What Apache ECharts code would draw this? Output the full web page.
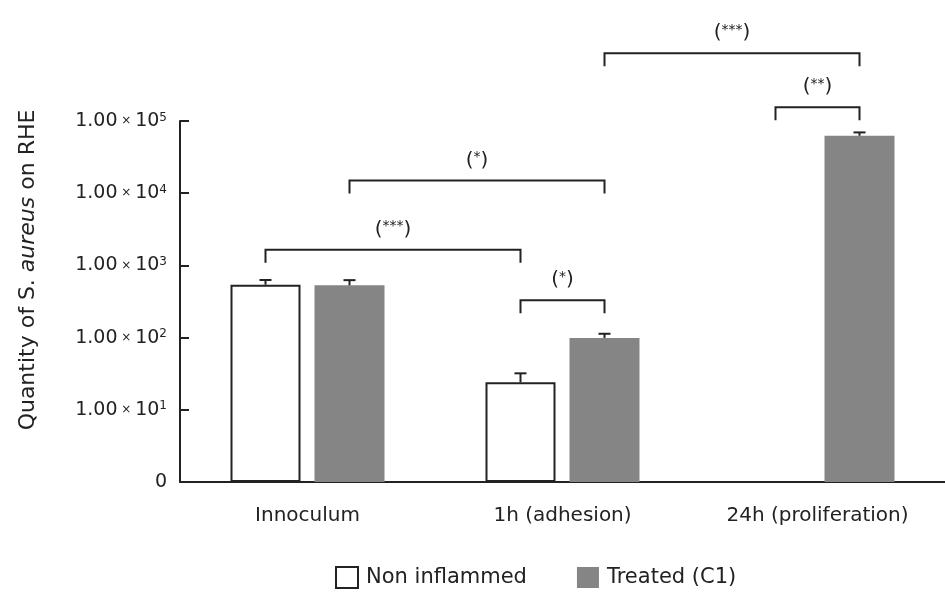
<!DOCTYPE html>
<html>
<head>
<meta charset="utf-8">
<script src="https://cdn.jsdelivr.net/npm/echarts@6/dist/echarts.min.js"></script>
<style>
html,body{margin:0;padding:0;background:#fff;}
#main{width:945px;height:592px;}
</style>
</head>
<body>
<div id="main"></div>
<script>
// ---- data ----
var categories = ['Innoculum', '1h (adhesion)', '24h (proliferation)'];
var nonInflamed = [540, 24, null];
var nonInflamedUpper = [628, 32, null];
var treated = [530, 99, 62500];
var treatedUpper = [625, 113, 69500];
var seriesNames = ['Non inflammed', 'Treated (C1)'];
// significance brackets: [category1, side1, category2, side2, level, stars]
var bracketCat1 = [0, 0, 1, 1, 2];
var bracketSide1 = [0, 1, 0, 1, 0];
var bracketCat2 = [1, 1, 1, 2, 2];
var bracketSide2 = [0, 1, 1, 1, 1];
var bracketLevel = [1650, 15000, 330, 870000, 155000];
var bracketStars = ['***', '*', '*', '***', '**'];
var yTickExponents = [0, 1, 2, 3, 4, 5];

// ---- style ----
var FONT = 'DejaVu Sans';
var INK = '#222';
var GREY = '#858585';
var BAR_W = 70, BAR_GAP = 14;
var sideOffset = function (side) { return (side === 0 ? -1 : 1) * (BAR_W + BAR_GAP) / 2; };

var chart = echarts.init(document.getElementById('main'), null, {renderer: 'canvas'});

var errData = [];
categories.forEach(function (c, i) {
  if (nonInflamed[i] != null) errData.push([i, nonInflamedUpper[i], nonInflamed[i], 0]);
  if (treated[i] != null) errData.push([i, treatedUpper[i], treated[i], 1]);
});

var bracketData = bracketLevel.map(function (lv, i) {
  return [bracketCat1[i], lv, bracketCat2[i], bracketSide1[i], bracketSide2[i]];
});

var option = {
  animation: false,
  backgroundColor: '#fff',
  grid: {left: 180, right: 0, top: 121, bottom: 110, containLabel: false},
  legend: {
    data: seriesNames,
    left: 335, top: 566,
    padding: 0,
    itemWidth: 22, itemHeight: 21, itemGap: 50,
    icon: 'rect',
    textStyle: {fontFamily: FONT, fontSize: 21, color: INK, padding: [0, 0, 0, 3]}
  },
  graphic: [{
    type: 'text',
    x: 28, y: 270,
    rotation: Math.PI / 2,
    style: {
      text: '{a|Quantity of S. }{i|aureus}{a| on RHE}',
      align: 'center', verticalAlign: 'middle',
      rich: {
        a: {fontFamily: FONT, fontSize: 22, fill: INK},
        i: {fontFamily: FONT, fontSize: 22, fontStyle: 'italic', fill: INK}
      }
    }
  }],
  xAxis: {
    type: 'category',
    data: categories,
    axisTick: {show: false},
    axisLine: {show: true, lineStyle: {color: INK, width: 2}},
    axisLabel: {fontFamily: FONT, fontSize: 20, color: INK, margin: 24}
  },
  yAxis: {
    type: 'log',
    logBase: 10,
    min: Math.pow(10, yTickExponents[0]),
    max: Math.pow(10, yTickExponents[yTickExponents.length - 1]),
    splitLine: {show: false},
    axisLine: {show: true, lineStyle: {color: INK, width: 2}},
    axisTick: {show: true, inside: true, length: 9, lineStyle: {color: INK, width: 2}},
    axisLabel: {
      margin: 13,
      formatter: function (v) {
        var e = Math.round(Math.log10(v));
        if (e === 0) return '{n|0}';
        return '{n|1.00}{x| × }{n|10}{s|' + e + '}';
      },
      rich: {
        n: {fontFamily: FONT, fontSize: 19, color: INK},
        x: {fontFamily: FONT, fontSize: 12, color: INK},
        s: {fontFamily: FONT, fontSize: 12, color: INK, verticalAlign: 'top'}
      }
    }
  },
  series: [
    {
      name: seriesNames[0],
      type: 'bar',
      data: nonInflamed,
      barWidth: BAR_W,
      barGap: (BAR_GAP / BAR_W * 100) + '%',
      itemStyle: {color: '#fff', borderColor: INK, borderWidth: 2}
    },
    {
      name: seriesNames[1],
      type: 'bar',
      data: treated,
      barWidth: BAR_W,
      itemStyle: {color: GREY}
    },
    {
      name: 'err',
      type: 'custom',
      data: errData,
      encode: {x: 0, y: 1},
      z: 5,
      renderItem: function (params, api) {
        var cat = api.value(0);
        var top = api.coord([cat, api.value(1)]);
        var base = api.coord([cat, api.value(2)]);
        var x = top[0] + sideOffset(api.value(3));
        return {
          type: 'group',
          children: [
            {type: 'line', shape: {x1: x, y1: base[1], x2: x, y2: top[1]}, style: {stroke: INK, lineWidth: 2}},
            {type: 'line', shape: {x1: x - 6, y1: top[1], x2: x + 6, y2: top[1]}, style: {stroke: INK, lineWidth: 2}}
          ]
        };
      }
    },
    {
      name: 'brackets',
      type: 'custom',
      data: bracketData,
      encode: {x: [0, 2], y: 1},
      clip: false,
      z: 5,
      renderItem: function (params, api) {
        var p1 = api.coord([api.value(0), api.value(1)]);
        var p2 = api.coord([api.value(2), api.value(1)]);
        var x1 = p1[0] + sideOffset(api.value(3));
        var x2 = p2[0] + sideOffset(api.value(4));
        var y = p1[1];
        var drop = 13;
        return {
          type: 'group',
          children: [
            {type: 'polyline', shape: {points: [[x1, y + drop], [x1, y], [x2, y], [x2, y + drop]]},
              style: {stroke: INK, lineWidth: 2, fill: null}},
            {type: 'text', style: {
              text: '{p|(}{s|' + bracketStars[params.dataIndex] + '}{p|)}',
              x: (x1 + x2) / 2, y: y - 20,
              align: 'center', verticalAlign: 'middle',
              rich: {
                p: {fontFamily: FONT, fontSize: 20, fill: INK},
                s: {fontFamily: FONT, fontSize: 14, fill: INK, verticalAlign: 'top'}
              }
            }}
          ]
        };
      }
    }
  ]
};
chart.setOption(option);
</script>
</body>
</html>
